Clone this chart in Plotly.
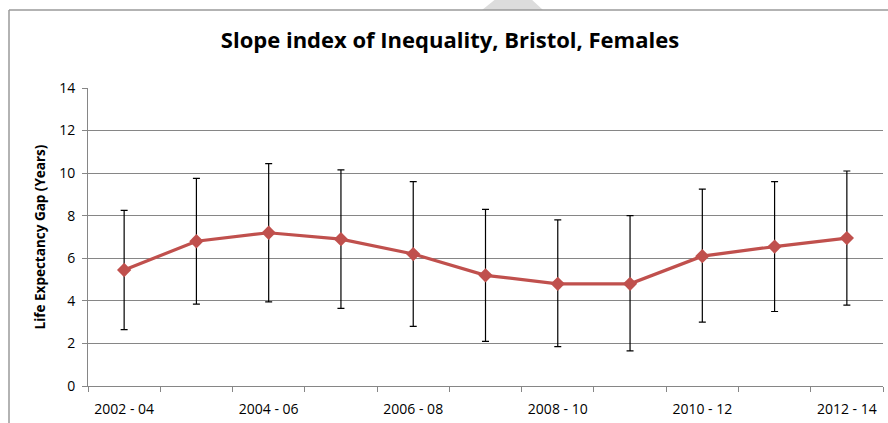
import plotly.graph_objects as go

categories = ["2002 - 04", "2003 - 05", "2004 - 06", "2005 - 07", "2006 - 08", "2007 - 09",
              "2008 - 10", "2009 - 11", "2010 - 12", "2011 - 13", "2012 - 14"]
sii = [5.45, 6.8, 7.2, 6.9, 6.2, 5.2, 4.8, 4.8, 6.1, 6.55, 6.95]
upper = [8.25, 9.75, 10.45, 10.15, 9.6, 8.3, 7.8, 8.0, 9.25, 9.6, 10.1]
lower = [2.65, 3.85, 3.95, 3.65, 2.8, 2.1, 1.85, 1.65, 3.0, 3.5, 3.8]
y_ticks = [0, 2, 4, 6, 8, 10, 12, 14]

x_idx = list(range(len(categories)))
err_plus = [u - v for u, v in zip(upper, sii)]
err_minus = [v - l for v, l in zip(sii, lower)]

FONT = "'Open Sans', sans-serif"

fig = go.Figure()
fig.add_trace(go.Scatter(
    x=x_idx, y=sii, mode="lines+markers",
    line=dict(color="#C0504D", width=3.2),
    marker=dict(symbol="diamond", size=11, color="#C0504D"),
    error_y=dict(type="data", symmetric=False, array=err_plus, arrayminus=err_minus,
                 color="black", thickness=1.2, width=3.5),
    showlegend=False, hoverinfo="skip",
))

# plot area pixel geometry: left 88, right 883, top 88, bottom 386
W, H = 888, 423
L, R, T, B = 88, 883, 88, 386
def px(x):
    return (x - L) / (R - L)
def py(y):
    return (B - y) / (B - T)

shapes = [
    dict(type="line", xref="paper", yref="paper", x0=px(9), x1=px(890), y0=py(10), y1=py(10),
         line=dict(color="#9a9a9a", width=1.5)),
    dict(type="line", xref="paper", yref="paper", x0=px(9), x1=px(9), y0=py(10), y1=py(430),
         line=dict(color="#9a9a9a", width=1.5)),
    dict(type="path", xref="paper", yref="paper",
         path=f"M {px(482)} {py(10)} L {px(543)} {py(10)} L {px(530)} {py(-2)} L {px(497)} {py(-2)} Z",
         fillcolor="#dcdcdc", line=dict(width=0), layer="below"),
]

fig.update_layout(
    width=W, height=H,
    margin=dict(l=L, r=W - R, t=T, b=H - B),
    paper_bgcolor="white", plot_bgcolor="white",
    font=dict(family=FONT, size=14, color="black"),
    title=dict(text="<b>Slope index of Inequality, Bristol, Females</b>",
               x=px(450), xref="paper", xanchor="center",
               y=1 - 40 / H, yanchor="middle",
               font=dict(family=FONT, size=22, color="black")),
    shapes=shapes,
    xaxis=dict(
        range=[-0.5, len(categories) - 0.5],
        tickmode="array", tickvals=x_idx[::2], ticktext=categories[::2],
        ticks="", showgrid=False, zeroline=False,
        showline=True, linecolor="#868686", linewidth=1,
        tickfont=dict(size=14), ticklabelstandoff=10,
        minor=dict(tickmode="linear", tick0=-0.5, dtick=1, ticks="outside",
                   ticklen=5, tickcolor="#868686", tickwidth=1, showgrid=False),
        fixedrange=True,
    ),
    yaxis=dict(
        range=[0, 14], tickmode="array", tickvals=y_ticks,
        ticks="outside", ticklen=5, tickcolor="#868686",
        showgrid=True, gridcolor="#868686", gridwidth=1,
        zeroline=False, showline=True, linecolor="#868686", linewidth=1,
        tickfont=dict(size=14), ticklabelstandoff=4,
        title=dict(text="<b>Life Expectancy Gap (Years)</b>", font=dict(size=13.5), standoff=10),
        fixedrange=True,
    ),
)

fig.write_html("out.html", config={"displayModeBar": False},
               post_script="document.body.style.margin='0px';document.body.style.overflow='hidden';")
